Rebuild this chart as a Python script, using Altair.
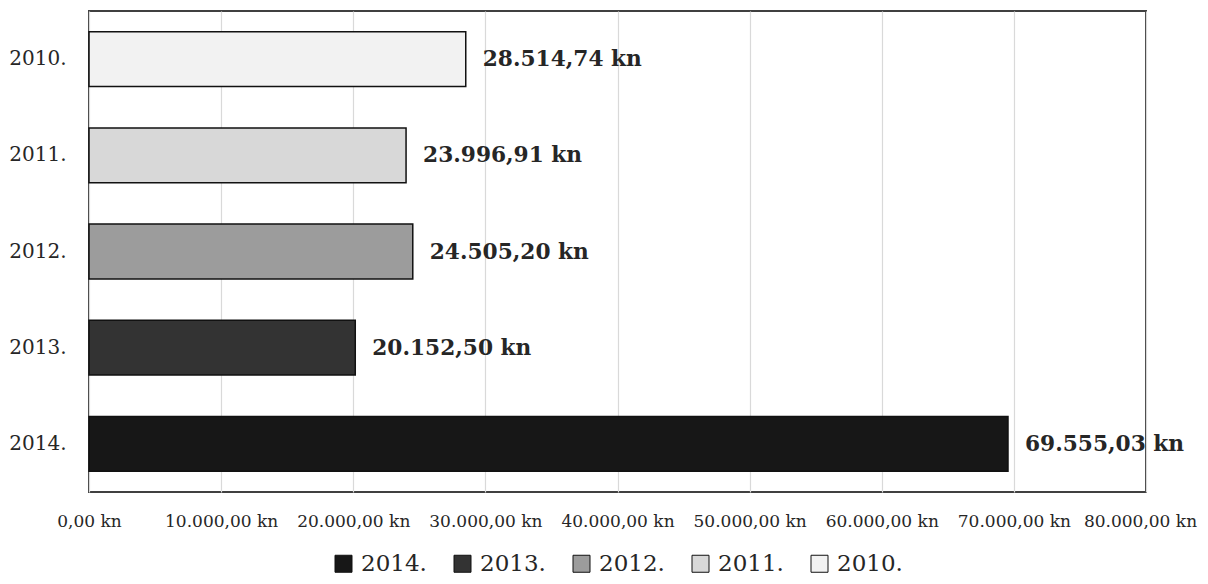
import altair as alt
import pandas as pd

years = ["2010.", "2011.", "2012.", "2013.", "2014."]
values = [28514.74, 23996.91, 24505.20, 20152.50, 69555.03]
legend_order = ["2014.", "2013.", "2012.", "2011.", "2010."]
legend_fills = ["#171717", "#333333", "#9c9c9c", "#d8d8d8", "#f2f2f2"]
x_ticks = [0, 10000, 20000, 30000, 40000, 50000, 60000, 70000, 80000]

df = pd.DataFrame({"year": years, "value": values})

FONT = "DejaVu Serif"
TXT = "#262626"

y_enc = alt.Y(
    "year:N",
    sort=years,
    title=None,
    scale=alt.Scale(paddingInner=0.43, paddingOuter=0.215),
    axis=alt.Axis(
        labelFont=FONT, labelFontSize=20, labelColor=TXT, labelPadding=23,
        ticks=False, domain=False, grid=False,
    ),
)
x_enc = alt.X(
    "value:Q",
    title=None,
    scale=alt.Scale(domain=[0, 80000], nice=False),
    axis=alt.Axis(
        values=x_ticks, format="$,.2f", labelFont=FONT, labelFontSize=17,
        labelColor=TXT, labelPadding=21, ticks=False, domain=False,
        grid=True, gridColor="#d9d9d9", gridWidth=1.2, labelFlush=False,
        labelOffset={"condition": {"test": "datum.value == 80000", "value": -6}, "value": 0},
    ),
)

bars = alt.Chart(df).mark_bar(stroke="#111111", strokeWidth=1.5).encode(
    y=y_enc,
    x=x_enc,
    color=alt.Color(
        "year:N",
        scale=alt.Scale(domain=legend_order, range=legend_fills),
        legend=alt.Legend(
            title=None, orient="none", legendX=243, legendY=541,
            direction="horizontal", columns=5, symbolType="square",
            symbolSize=289, symbolStrokeColor="#111111", symbolStrokeWidth=1,
            symbolOpacity=1, labelFont=FONT, labelFontSize=23, labelColor=TXT,
            labelOffset=6, columnPadding=24, padding=0, labelLimit=200,
        ),
    ),
)

labels = alt.Chart(df).mark_text(
    align="left", baseline="middle", dx=17, font=FONT, fontSize=21.7,
    fontWeight="bold", color=TXT,
).encode(
    y=alt.Y("year:N", sort=years),
    x=alt.X("value:Q"),
    text=alt.Text("value:Q", format="$,.2f"),
)

chart = (
    alt.layer(bars, labels)
    .properties(
        width=1057,
        height=481,
        autosize=alt.AutoSizeParams(type="none"),
        padding={"left": 81, "top": 3, "right": 53, "bottom": 83},
    )
    .configure(
        locale=alt.Locale(
            number=alt.NumberLocale(
                decimal=",", thousands=".", grouping=[3], currency=["", " kn"]
            )
        ),
        view=alt.ViewConfig(stroke="#404040", strokeWidth=2),
    )
)

chart.save("out.html", embed_options={"renderer": "svg", "actions": False})
